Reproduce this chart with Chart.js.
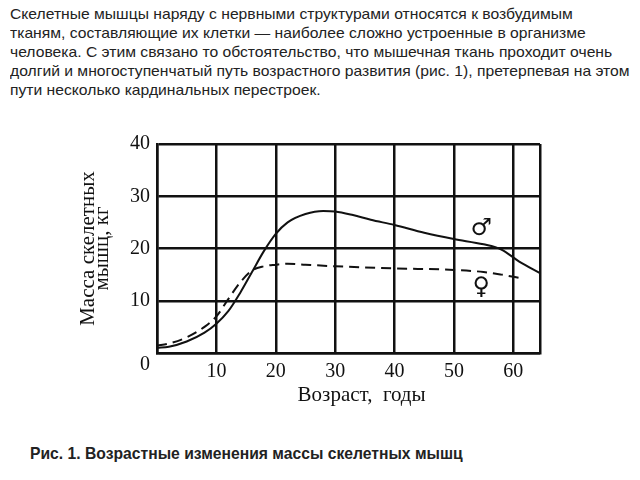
<!DOCTYPE html>
<html lang="ru">
<head>
<meta charset="utf-8">
<script src="https://cdn.jsdelivr.net/npm/chart.js@4"></script>
<style>
    html, body { margin: 0; padding: 0; background: #fff; }
    body { width: 640px; height: 480px; position: relative; overflow: hidden; }
    #intro {
        position: absolute; left: 10px; top: 4px;
        font-family: "Liberation Sans", Arial, sans-serif;
        font-size: 15px; line-height: 19px; color: #222; white-space: nowrap;
        transform: scaleX(1.045); transform-origin: left top;
    }
    #caption {
        position: absolute; left: 30px; top: 444px;
        font-family: "Liberation Sans", Arial, sans-serif;
        font-size: 15.7px; font-weight: bold; line-height: 19px; color: #222; white-space: nowrap;
    }
    #chart-box { position: absolute; left: 0; top: 125px; width: 640px; height: 290px; }
</style>
</head>
<body>
<div id="intro">
    Скелетные мышцы наряду с нервными структурами относятся к возбудимым<br>
    тканям, составляющие их клетки — наиболее сложно устроенные в организме<br>
    человека. С этим связано то обстоятельство, что мышечная ткань проходит очень<br>
    долгий и многоступенчатый путь возрастного развития (рис. 1), претерпевая на этом<br>
    пути несколько кардинальных перестроек.
</div>
<div id="chart-box"><canvas id="chart"></canvas></div>
<div id="caption">Рис. 1. Возрастные изменения массы скелетных мышц</div>

<script>
// возраст, годы / масса скелетных мышц, кг
const maleAges = [0, 2, 5, 8, 10, 12, 14, 16, 18, 20, 22, 25, 28, 30, 33, 36, 40, 45, 50, 55, 58, 61, 64.5];
const maleMass = [1.0, 1.2, 2.2, 3.9, 5.6, 8.0, 11.5, 15.5, 19.5, 22.8, 25.0, 26.6, 27.2, 27.1, 26.4, 25.5, 24.5, 23.0, 21.8, 20.8, 19.8, 17.5, 15.3];

const femaleAges = [0, 2, 5, 8, 10, 12, 14, 16, 18, 20, 22, 25, 30, 40, 50, 55, 58, 61.4];
const femaleMass = [1.4, 1.8, 3.0, 5.0, 7.0, 10.3, 13.5, 15.8, 16.6, 16.9, 17.1, 16.9, 16.6, 16.2, 15.9, 15.5, 15.0, 14.3];

const xTicks = [10, 20, 30, 40, 50, 60];
const yTicks = [0, 10, 20, 30, 40];

// значки пола у кривых
const symbols = ["♂", "♀"];
const symbolAges = [54.6, 54.6];
const symbolMass = [23.7, 12.5];

const toPoints = (xs, ys) => xs.map((x, i) => ({ x: x, y: ys[i] }));

const serif = '"Liberation Serif", "Times New Roman", serif';

const sexSymbols = {
    id: 'sexSymbols',
    afterDatasetsDraw(chart) {
        const { ctx, scales } = chart;
        ctx.save();
        ctx.fillStyle = '#111';
        ctx.font = 'bold 24px "DejaVu Sans", sans-serif';
        ctx.textAlign = 'center';
        ctx.textBaseline = 'middle';
        symbols.forEach((s, i) => {
            ctx.fillText(s, scales.x.getPixelForValue(symbolAges[i]), scales.y.getPixelForValue(symbolMass[i]));
        });
        ctx.restore();
    }
};

new Chart(document.getElementById('chart'), {
    type: 'line',
    data: {
        datasets: [{
            label: 'Мужчины',
            data: toPoints(maleAges, maleMass),
            borderColor: '#111',
            borderWidth: 2,
            pointRadius: 0,
            cubicInterpolationMode: 'monotone'
        }, {
            label: 'Женщины',
            data: toPoints(femaleAges, femaleMass),
            borderColor: '#111',
            borderWidth: 2,
            borderDash: [10, 6],
            pointRadius: 0,
            cubicInterpolationMode: 'monotone'
        }]
    },
    options: {
        responsive: true,
        maintainAspectRatio: false,
        animation: false,
        layout: { padding: { top: 14, right: 100, left: 0, bottom: 0 } },
        plugins: { legend: { display: false }, tooltip: { enabled: false } },
        scales: {
            x: {
                type: 'linear',
                min: 0,
                max: 64.5,
                afterFit: scale => { scale.height = 62; },
                afterBuildTicks: scale => {
                    scale.ticks = [0].concat(xTicks, [64.5]).map(v => ({ value: v }));
                },
                grid: { color: '#111', lineWidth: 2.5, drawTicks: false },
                border: { color: '#111', width: 2.5 },
                ticks: {
                    padding: 7,
                    color: '#111',
                    font: { family: serif, size: 20 },
                    callback: v => xTicks.includes(v) ? String(v) : ''
                },
                title: {
                    display: true,
                    text: '     Возраст,  годы',
                    color: '#111',
                    font: { family: serif, size: 21 },
                    padding: { top: 0, bottom: 7 }
                }
            },
            y: {
                min: 0,
                max: 40,
                afterFit: scale => { scale.width = 157; },
                afterBuildTicks: scale => {
                    scale.ticks = yTicks.map(v => ({ value: v }));
                },
                grid: { color: '#111', lineWidth: 2.5, drawTicks: false },
                border: { color: '#111', width: 2.5 },
                ticks: {
                    padding: 7,
                    color: '#111',
                    font: { family: serif, size: 20, lineHeight: 1.2 },
                    // ноль стоит ниже оси, как на рисунке
                    callback: v => v === 0 ? ['', '0'] : String(v)
                },
                title: {
                    display: true,
                    text: ['Масса скелетных', 'мышц, кг'],
                    color: '#111',
                    font: { family: serif, size: 21, lineHeight: 0.68 },
                    padding: { top: 81, bottom: 0 }
                }
            }
        }
    },
    plugins: [sexSymbols]
});
</script>
</body>
</html>
